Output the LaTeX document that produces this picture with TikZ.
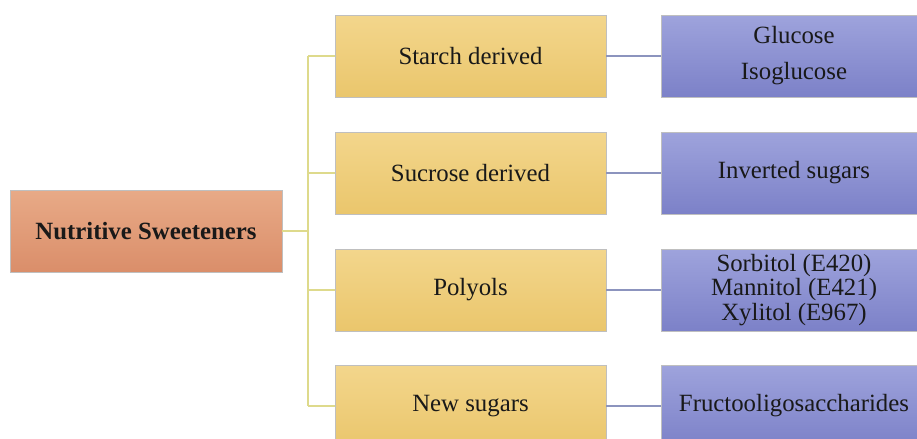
\documentclass[tikz,border=0pt]{standalone}
\usepackage{fontspec}
\setmainfont{LiberationSerif}[Extension=.ttf, UprightFont=*-Regular, BoldFont=*-Bold,
    ItalicFont=*-Italic, BoldItalicFont=*-BoldItalic]
\begin{document}
\begin{tikzpicture}[x=0.5pt, y=-0.5pt,
        box/.style={draw=black!25, line width=0.4pt, minimum height=41pt, inner sep=2pt,
            align=center, text=black!90, font=\fontsize{12.4}{18}\selectfont},
        rootbox/.style={box, minimum width=136pt, top color=myroottop, bottom color=myrootbot,
            font=\fontsize{12.4}{18}\selectfont\bfseries},
        groupbox/.style={box, minimum width=135.5pt, top color=myyeltop, bottom color=myyelbot},
        itembox/.style={box, minimum width=133pt, top color=mybluetop, bottom color=mybluebot},
        trunkline/.style={draw=mytrunk, line width=0.6pt},
        itemline/.style={draw=myitemline, line width=0.6pt}]
        \definecolor{myroottop}{RGB}{232,170,135}
        \definecolor{myrootbot}{RGB}{218,142,106}
        \definecolor{myyeltop}{RGB}{243,214,140}
        \definecolor{myyelbot}{RGB}{234,198,108}
        \definecolor{mybluetop}{RGB}{158,163,220}
        \definecolor{mybluebot}{RGB}{124,129,200}
        \definecolor{mytrunk}{RGB}{222,218,140}
        \definecolor{myitemline}{RGB}{140,148,190}
        \useasboundingbox (0, 0) rectangle (917, 439);
        % root
        \node[rootbox] (root) at (146, 231) {Nutritive Sweeteners};
        % groups
        \node[groupbox] (starch) at (470.5, 56) {Starch derived};
        \node[groupbox] (sucrose) at (470.5, 173) {Sucrose derived};
        \node[groupbox] (polyols) at (470.5, 290) {Polyols};
        \node[groupbox] (newsug) at (470.5, 406) {New sugars};
        % items
        \node[itembox] (glucose) at (794, 56) {Glucose\\Isoglucose};
        \node[itembox] (inverted) at (794, 173) {Inverted sugars};
        \node[itembox, font=\fontsize{12.4}{12.2}\selectfont] (sorbitol) at (794, 290)
            {Sorbitol (E420)\\Mannitol (E421)\\Xylitol (E967)};
        \node[itembox] (fos) at (794, 406) {Fructooligosaccharides};
        % connectors
        \coordinate (trunk) at (308, 231);
        \draw[trunkline] (root.east) -- (trunk);
        \draw[trunkline] (trunk |- starch) -- (trunk |- newsug);
        \draw[trunkline] (trunk |- starch) -- (starch.west);
        \draw[trunkline] (trunk |- sucrose) -- (sucrose.west);
        \draw[trunkline] (trunk |- polyols) -- (polyols.west);
        \draw[trunkline] (trunk |- newsug) -- (newsug.west);
        \draw[itemline] (starch.east) -- (glucose.west);
        \draw[itemline] (sucrose.east) -- (inverted.west);
        \draw[itemline] (polyols.east) -- (sorbitol.west);
        \draw[itemline] (newsug.east) -- (fos.west);
    \end{tikzpicture}
\end{document}
